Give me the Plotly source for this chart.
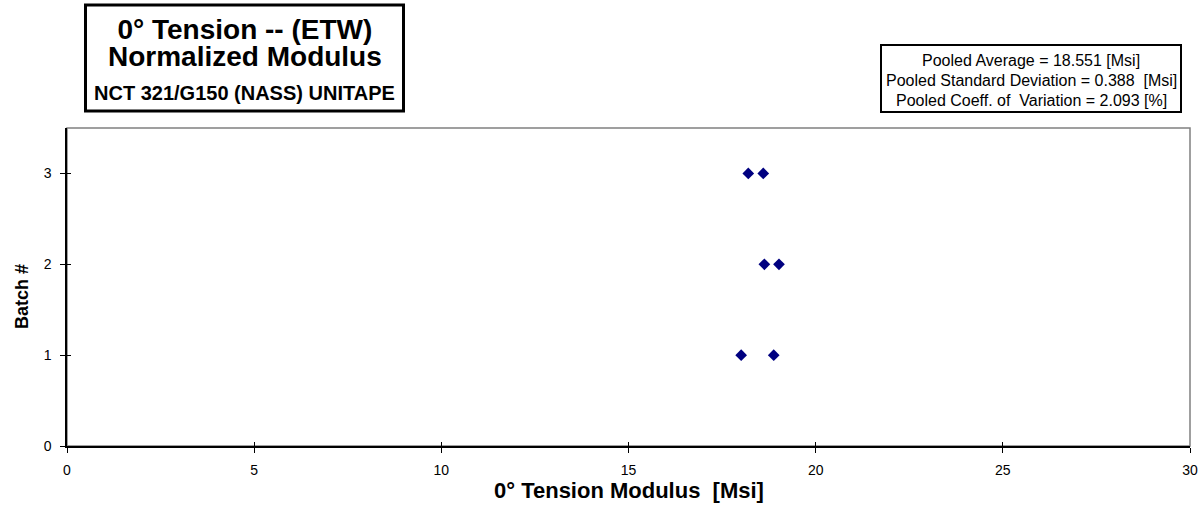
import plotly.graph_objects as go

# ---- data ----
batch_numbers = [1, 1, 2, 2, 3, 3]
modulus_msi = [18.01, 18.88, 18.63, 19.02, 18.20, 18.60]

x_ticks = [0, 5, 10, 15, 20, 25, 30]
y_ticks = [0, 1, 2, 3]

title_lines = ["0° Tension -- (ETW)", "Normalized Modulus", "NCT 321/G150 (NASS) UNITAPE"]
stats_lines = [
    "Pooled Average = 18.551 [Msi]",
    "Pooled Standard Deviation = 0.388 &nbsp;[Msi]",
    "Pooled Coeff. of &nbsp;Variation = 2.093 [%]",
]
x_title = "0° Tension Modulus &nbsp;[Msi]"
y_title = "Batch #"

# ---- layout geometry (pixels) ----
W, H = 1202, 508
PL, PR, PT, PB = 67, 1190, 128, 446
FONT = "Liberation Sans, Arial, sans-serif"


def px_x(p):
    return (p - PL) / (PR - PL)


def px_y(p):
    return (PB - p) / (PB - PT)


fig = go.Figure()
fig.add_trace(go.Scatter(
    x=modulus_msi, y=batch_numbers, mode="markers",
    marker=dict(symbol="diamond", size=9, color="#000080",
                line=dict(width=0)),
    showlegend=False, hoverinfo="x+y",
))

axis_common = dict(showgrid=False, zeroline=False, showline=True,
                   automargin=False,
                   linecolor="black", linewidth=1.5, ticks="outside",
                   ticklen=5, tickwidth=1, tickcolor="black",
                   tickfont=dict(family=FONT, size=14, color="black"))

fig.update_layout(
    width=W, height=H,
    margin=dict(l=PL, r=W - PR, t=PT, b=H - PB, autoexpand=False),
    paper_bgcolor="white", plot_bgcolor="white",
    font=dict(family=FONT, color="black"),
    xaxis=dict(range=[0, 30], tickvals=x_ticks, ticklabelstandoff=5,
               **axis_common),
    yaxis=dict(range=[0, 3.5], tickvals=y_ticks, ticklabelstandoff=6,
               **axis_common),
    # overlay axes that draw the inner half of the cross ticks
    xaxis2=dict(range=[0, 30], tickvals=x_ticks, overlaying="x",
                side="bottom", ticks="inside", ticklen=4, tickwidth=1,
                tickcolor="black", showticklabels=False, showgrid=False,
                zeroline=False, showline=False, automargin=False),
    yaxis2=dict(range=[0, 3.5], tickvals=y_ticks, overlaying="y",
                side="left", ticks="inside", ticklen=4, tickwidth=1,
                tickcolor="black", showticklabels=False, showgrid=False,
                zeroline=False, showline=False, automargin=False),
)
# invisible trace to activate overlay axes
fig.add_trace(go.Scatter(x=[None], y=[None], xaxis="x2", yaxis="y2",
                         showlegend=False, hoverinfo="skip"))

shapes = []
# plot frame (gray top/right)
shapes.append(dict(type="rect", xref="paper", yref="paper", x0=0, y0=0,
                   x1=1, y1=1, line=dict(color="#808080", width=1.5),
                   layer="below"))
# title box
shapes.append(dict(type="rect", xref="paper", yref="paper",
                   x0=px_x(85.5), x1=px_x(403.5), y0=px_y(111), y1=px_y(5),
                   line=dict(color="black", width=3), fillcolor="white"))
# stats box
shapes.append(dict(type="rect", xref="paper", yref="paper",
                   x0=px_x(881), x1=px_x(1181), y0=px_y(112), y1=px_y(45),
                   line=dict(color="black", width=2), fillcolor="white"))
fig.update_layout(shapes=shapes)

ann = []
# first two title lines as one text block (base size sets line spacing)
big = "<span style='font-size:28px'><b>%s</b></span>"
ann.append(dict(text=big % title_lines[0] + "<br>" + big % title_lines[1],
                xref="paper", yref="paper", x=px_x(244.5), y=px_y(43.3),
                xanchor="center", yanchor="middle", showarrow=False,
                align="center",
                font=dict(family=FONT, size=20.5, color="black")))
ann.append(dict(text="<b>%s</b>" % title_lines[2], xref="paper", yref="paper",
                x=px_x(244.5), y=px_y(93), xanchor="center",
                yanchor="middle", showarrow=False,
                font=dict(family=FONT, size=20, color="black")))
stats_y = [60, 80.5, 101]
for t, yy in zip(stats_lines, stats_y):
    ann.append(dict(text=t, xref="paper", yref="paper",
                    x=px_x(1031), y=px_y(yy), xanchor="center",
                    yanchor="middle", showarrow=False,
                    font=dict(family=FONT, size=16, color="black")))
ann.append(dict(text="<b>%s</b>" % x_title, xref="paper", yref="paper",
                x=px_x(629), y=px_y(490), xanchor="center", yanchor="middle",
                showarrow=False, font=dict(family=FONT, size=22, color="black")))
ann.append(dict(text="<b>%s</b>" % y_title, xref="paper", yref="paper",
                x=px_x(22), y=px_y(297), xanchor="center", yanchor="middle",
                textangle=-90, showarrow=False,
                font=dict(family=FONT, size=18, color="black")))
fig.update_layout(annotations=ann)

fig.write_html("out.html")
